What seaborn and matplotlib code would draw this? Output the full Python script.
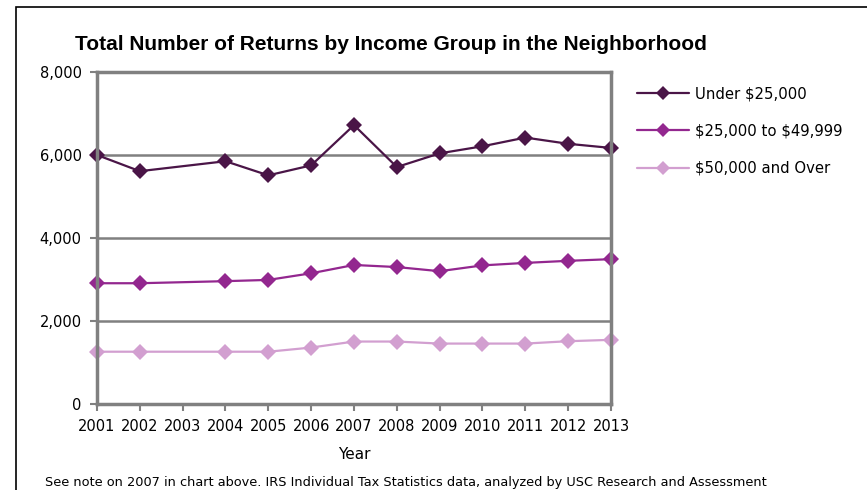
import matplotlib
matplotlib.use("Agg")
import matplotlib.pyplot as plt
import seaborn as sns
import pandas as pd
from matplotlib.patches import Rectangle
from matplotlib.lines import Line2D
from matplotlib.font_manager import FontProperties

years = [2001, 2002, 2004, 2005, 2006, 2007, 2008, 2009, 2010, 2011, 2012, 2013]
tick_years = list(range(2001, 2014))
under_25k = [6000, 5610, 5850, 5510, 5750, 6720, 5710, 6040, 6210, 6420, 6270, 6170]
mid_25k_50k = [2910, 2910, 2960, 2990, 3150, 3350, 3300, 3200, 3340, 3400, 3450, 3490]
over_50k = [1260, 1260, 1260, 1260, 1360, 1505, 1505, 1456, 1456, 1456, 1513, 1546]
series_names = ["Under $25,000", "$25,000 to $49,999", "$50,000 and Over"]
colors = ["#4A1547", "#93278F", "#D29FD0"]

rows = []
for name, vals in zip(series_names, [under_25k, mid_25k_50k, over_50k]):
    for y, v in zip(years, vals):
        rows.append({"Year": y, "Returns": v, "Group": name})
df = pd.DataFrame(rows)

sns.set_style("white")
plt.rcParams["font.family"] = ["Liberation Sans Narrow", "DejaVu Sans"]
plt.rcParams["text.color"] = "black"
plt.rcParams["axes.labelcolor"] = "black"
plt.rcParams["xtick.color"] = "black"
plt.rcParams["ytick.color"] = "black"

fig = plt.figure(figsize=(8.67, 4.9), dpi=100)
ax = fig.add_axes([97/867, 1-404/490, (611-97)/867, (404-72)/490])

sns.lineplot(data=df, x="Year", y="Returns", hue="Group", palette=colors,
             hue_order=series_names, marker="D", markersize=8, markeredgewidth=0,
             linewidth=1.6, ax=ax, legend=False)
for ln in ax.lines:
    ln.set_clip_on(False)

ax.set_xlim(2001, 2013)
ax.set_ylim(0, 8000)
ax.set_xticks(tick_years)
ax.set_xticklabels([str(t) for t in tick_years], fontsize=10.5)
ax.set_yticks([0, 2000, 4000, 6000, 8000])
ax.set_yticklabels(["0", "2,000", "4,000", "6,000", "8,000"], fontsize=10.5)
ax.tick_params(axis="both", direction="out", length=5, width=1.5, color="#808080",
               labelcolor="black", pad=6, bottom=True, left=True)
ax.grid(axis="y", color="#808080", linewidth=1.8)
ax.set_axisbelow(True)
for sp in ax.spines.values():
    sp.set_color("#808080")
    sp.set_linewidth(2.5)
ax.set_xlabel("Year", fontsize=11, labelpad=9, color="black")
ax.set_ylabel("")

fig.text(75/867, 1-44/490, "Total Number of Returns by Income Group in the Neighborhood",
         fontsize=15, fontweight="bold", va="center", ha="left", color="black",
         family=["Liberation Sans", "DejaVu Sans"])

legend_labels = [s.replace("$", r"\$") for s in series_names]
handles = [Line2D([0], [0], color=c, marker="D", markersize=7, markeredgewidth=0,
                  linewidth=1.6) for c in colors]
legend_font = FontProperties(family="DejaVu Sans", size=10.7)
leg = fig.legend(handles, legend_labels, loc="upper left",
                 bbox_to_anchor=(624/867, 1-73/490), frameon=False,
                 handlelength=3.5, labelspacing=1.5, handletextpad=0.4,
                 prop=legend_font)
for t in leg.get_texts():
    t.set_color("black")

fig.text(45/867, 1-482/490,
         "See note on 2007 in chart above. IRS Individual Tax Statistics data, analyzed by USC Research and Assessment",
         fontsize=9.3, va="center", ha="left", color="black")

fig.patches.append(Rectangle((16/867, -0.1), 1.1, 1 - 7/490 + 0.1, transform=fig.transFigure,
                             fill=False, edgecolor="black", linewidth=1.2))

fig.savefig("out.png", dpi=100)
